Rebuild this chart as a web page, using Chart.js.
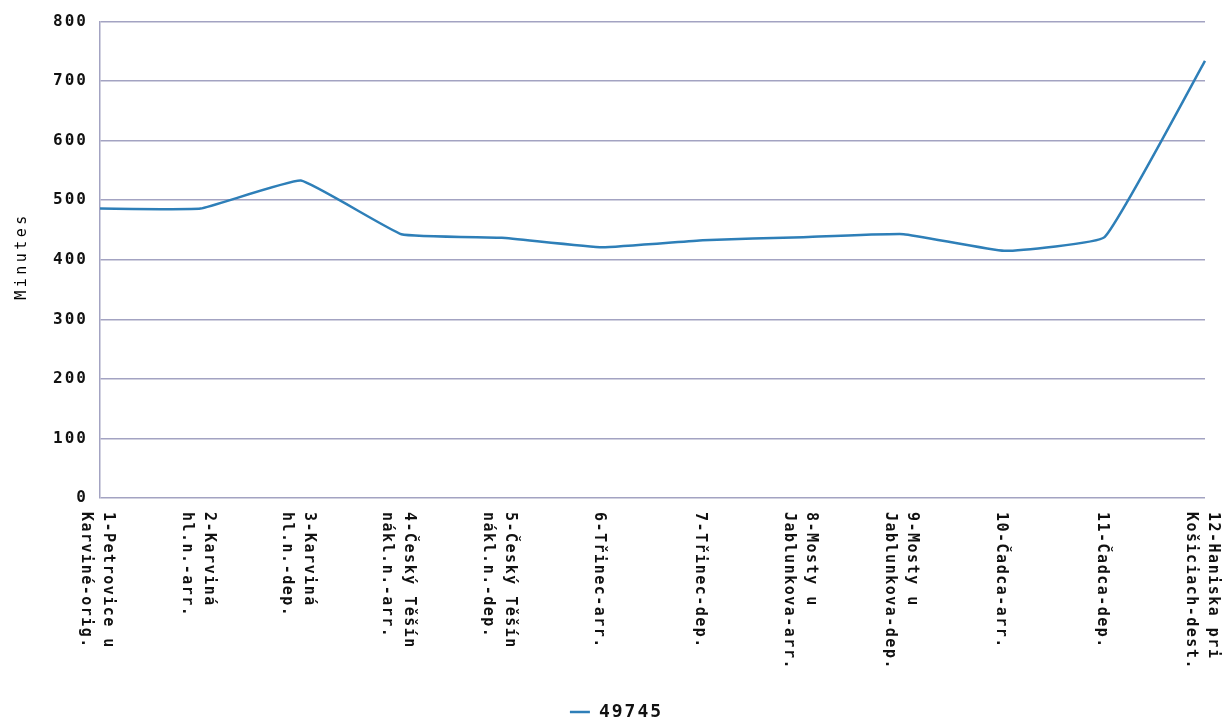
<!DOCTYPE html>
<html>
<head>
<meta charset="utf-8">
<script src="https://cdn.jsdelivr.net/npm/chart.js@4/dist/chart.umd.min.js"></script>
<style>
html,body{margin:0;padding:0;background:#fff;}
#wrap{width:1229px;height:719px;}
</style>
</head>
<body>
<div id="wrap"><canvas id="c" width="1229" height="719"></canvas></div>
<script>
const categories = [
  ["1-Petrovice u", "Karviné-orig."],
  ["2-Karviná", "hl.n.-arr."],
  ["3-Karviná", "hl.n.-dep."],
  ["4-Český Těšín", "nákl.n.-arr."],
  ["5-Český Těšín", "nákl.n.-dep."],
  ["6-Třinec-arr."],
  ["7-Třinec-dep."],
  ["8-Mosty u", "Jablunkova-arr."],
  ["9-Mosty u", "Jablunkova-dep."],
  ["10-Čadca-arr."],
  ["11-Čadca-dep."],
  ["12-Haniska pri", "Košiciach-dest."]
];
const seriesName = "49745";
const minutes = [486, 486, 533, 443, 437, 421, 433, 438, 443, 415, 438, 734];
const yTicks = [0, 100, 200, 300, 400, 500, 600, 700, 800];
const yTitle = "Minutes";

const FONT = '"DejaVu Sans Mono", monospace';
const gridColor = '#a3a3c2';
const lineColor = '#2e7fb8';

const spacingPlugin = {
  id: 'spacing',
  afterInit(chart) { try { chart.ctx.letterSpacing = '2px'; } catch (e) {} },
  beforeUpdate(chart) { try { chart.ctx.letterSpacing = '2px'; } catch (e) {} },
  afterLayout(chart) {
    if (chart.legend) { chart.legend.left += 14; chart.legend.right += 14; }
  },
  beforeDraw(chart) { try { chart.ctx.letterSpacing = '2px'; } catch (e) {} }
};

const xLabelPlugin = {
  id: 'xLabels',
  afterDraw(chart) {
    const ctx = chart.ctx;
    const xs = chart.scales.x;
    const top = chart.chartArea.bottom + 14;
    ctx.save();
    ctx.font = 'bold 15px ' + FONT;
    try { ctx.letterSpacing = '1.5px'; } catch (e) {}
    ctx.fillStyle = '#111';
    ctx.textAlign = 'left';
    ctx.textBaseline = 'middle';
    const lh = 22;
    categories.forEach((lines, i) => {
      const x = xs.getPixelForValue(i) - 3;
      ctx.save();
      ctx.translate(x, top);
      ctx.rotate(Math.PI / 2);
      const n = lines.length;
      lines.forEach((t, k) => {
        ctx.fillText(t, 0, (k - (n - 1) / 2) * lh);
      });
      ctx.restore();
    });
    ctx.restore();
  }
};

const yTitlePlugin = {
  id: 'yTitleCustom',
  afterDraw(chart) {
    const ctx = chart.ctx;
    ctx.save();
    ctx.font = '15px ' + FONT;
    try { ctx.letterSpacing = '3.5px'; } catch (e) {}
    ctx.fillStyle = '#000';
    ctx.textAlign = 'center';
    ctx.textBaseline = 'middle';
    ctx.translate(22, 256);
    ctx.rotate(-Math.PI / 2);
    ctx.fillText(yTitle, 0, 0);
    ctx.restore();
  }
};

new Chart(document.getElementById('c'), {
  type: 'line',
  data: {
    labels: categories,
    datasets: [{
      label: seriesName,
      data: minutes,
      borderColor: lineColor,
      backgroundColor: lineColor,
      borderWidth: 2.5,
      pointRadius: 0,
      pointHoverRadius: 0,
      tension: 0.1,
      fill: false
    }]
  },
  options: {
    responsive: false,
    animation: false,
    layout: { padding: { top: 20, right: 24, left: 0, bottom: -12 } },
    plugins: {
      legend: {
        position: 'bottom',
        labels: {
          usePointStyle: true,
          pointStyle: 'line',
          pointStyleWidth: 20,
          boxHeight: 2,
          color: '#111',
          padding: 4,
          font: { family: FONT, size: 18, weight: 'bold' }
        }
      },
      tooltip: { enabled: false }
    },
    scales: {
      x: {
        type: 'category',
        offset: false,
        grid: { display: false, drawTicks: false },
        border: { display: false },
        ticks: { display: false },
        afterFit(scale) { scale.height = 201; }
      },
      y: {
        min: 0,
        max: 800,
        afterBuildTicks(scale) { scale.ticks = yTicks.map(v => ({ value: v })); },
        afterFit(scale) { scale.width = 100; },
        grid: { color: gridColor, lineWidth: 1.5, drawTicks: false },
        border: { display: true, color: gridColor, width: 1.5 },
        ticks: {
          padding: 12,
          color: '#111',
          font: { family: FONT, size: 16, weight: 'bold' }
        },
        title: { display: false }
      }
    }
  },
  plugins: [spacingPlugin, xLabelPlugin, yTitlePlugin]
});
</script>
</body>
</html>
